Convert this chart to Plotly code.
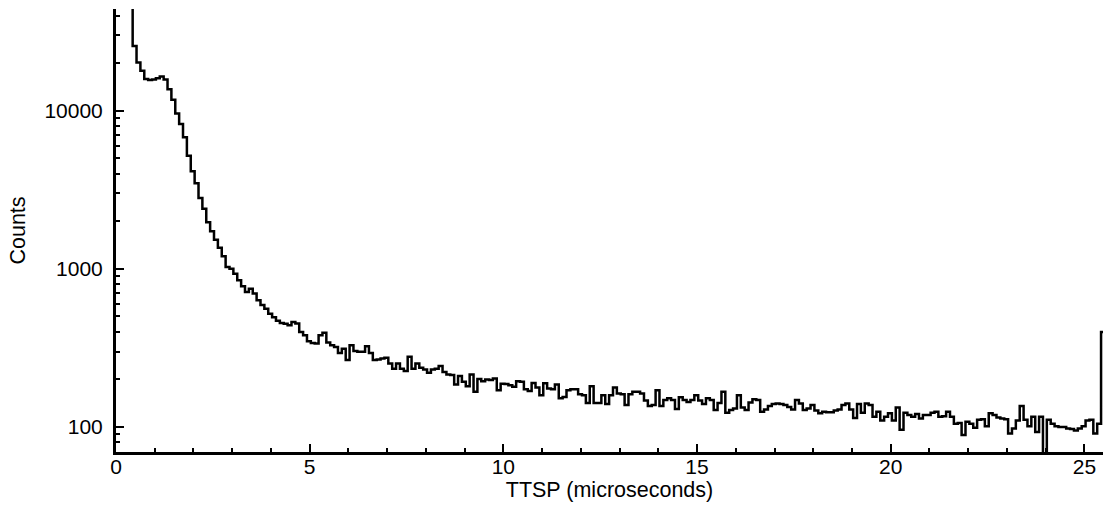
import math
import plotly.graph_objects as go

# Histogram of TTSP (time to successive pulse), bin width 0.1 microseconds
first_bin_left = 0.33
bin_width = 0.1
counts = [
    60000, 25700, 20200, 17900, 15850, 15630, 15750, 16080, 16460, 15750,
    13700, 11740, 9620, 8240, 6790, 5200, 4140, 3480, 2810, 2400,
    1970, 1730, 1530, 1360, 1200, 1026, 1003, 933, 846, 776,
    714, 750, 698, 633, 590, 560, 520, 495, 470, 455,
    450, 440, 461, 451, 399, 380, 349, 340, 337, 380,
    394, 342, 329, 321, 294, 313, 265, 329, 303, 299,
    299, 324, 294, 265, 267, 271, 274, 252, 234, 252,
    234, 226, 278, 234, 252, 237, 231, 220, 231, 234,
    243, 223, 215, 213, 186, 210, 193, 181, 215, 167,
    201, 195, 200, 198, 203, 171, 188, 187, 184, 180,
    195, 193, 173, 169, 190, 178, 159, 189, 175, 173,
    186, 152, 155, 171, 173, 173, 161, 159, 142, 181,
    142, 142, 159, 140, 159, 178, 163, 161, 138, 161,
    167, 167, 163, 147, 136, 138, 171, 136, 148, 152,
    148, 130, 154, 148, 144, 148, 159, 147, 140, 152,
    148, 128, 142, 167, 123, 128, 131, 159, 133, 128,
    143, 150, 148, 125, 129, 136, 140, 141, 140, 138,
    134, 129, 148, 141, 128, 131, 138, 127, 122, 125,
    124, 124, 127, 129, 138, 141, 129, 114, 140, 123,
    141, 138, 116, 125, 110, 116, 122, 110, 133, 96,
    123, 119, 116, 121, 113, 119, 119, 123, 125, 116,
    117, 125, 116, 105, 106, 89, 108, 105, 99, 111,
    112, 101, 122, 119, 115, 113, 112, 91, 98, 110,
    136, 111, 101, 116, 93, 116, 65, 111, 105, 101,
    100, 100, 98, 97, 95, 98, 101, 110, 111, 91,
    105, 399,
]

x_range = [0, 25.48]
y_range_counts = [69.5, 44000]
x_major = [0, 5, 10, 15, 20, 25]
x_minor = [v for v in range(0, 26) if v % 5 != 0]
y_major = [100, 1000, 10000]
y_major_text = ["100", "1000", "10000"]
y_minor = [70, 80, 90, 200, 300, 400, 500, 600, 700, 800, 900,
           2000, 3000, 4000, 5000, 6000, 7000, 8000, 9000, 20000, 30000, 40000]

edges = [first_bin_left + bin_width * i for i in range(len(counts) + 1)]
xs = edges
ys = counts + [counts[-1]]

FONT = "Liberation Sans, Arial, Helvetica, sans-serif"

fig = go.Figure()
fig.add_trace(go.Scatter(
    x=xs, y=ys, mode="lines", line=dict(shape="hv", color="black", width=2.5),
    hoverinfo="skip", showlegend=False,
))

fig.update_layout(
    width=1103, height=508,
    margin=dict(l=116, r=0, t=9, b=56),
    paper_bgcolor="white", plot_bgcolor="white",
    font=dict(family=FONT, size=21, color="black"),
)
fig.update_xaxes(
    range=x_range, showgrid=False, zeroline=False,
    showline=True, linecolor="black", linewidth=3,
    tickmode="array", tickvals=x_major, ticktext=[str(v) for v in x_major],
    ticks="inside", ticklen=8, tickwidth=2, tickcolor="black",
    minor=dict(tickvals=x_minor, ticks="inside", ticklen=4, tickwidth=2, tickcolor="black", showgrid=False),
    tickfont=dict(size=21), ticklabelstandoff=-6,
    title=dict(text="TTSP (microseconds)", font=dict(size=21.5), standoff=3),
    automargin=False,
)
fig.update_yaxes(
    type="log", range=[math.log10(y_range_counts[0]), math.log10(y_range_counts[1])],
    showgrid=False, zeroline=False,
    showline=True, linecolor="black", linewidth=3,
    tickmode="array", tickvals=y_major, ticktext=y_major_text,
    ticks="inside", ticklen=8, tickwidth=2, tickcolor="black",
    minor=dict(tickvals=y_minor, ticks="inside", ticklen=4, tickwidth=2, tickcolor="black", showgrid=False),
    tickfont=dict(size=21), ticklabelstandoff=6,
    title=dict(text="Counts", font=dict(size=21.5), standoff=13),
    automargin=False,
)

fig.write_html(
    "out.html",
    config={"displayModeBar": False},
    post_script="document.body.style.margin='0';document.body.style.overflow='hidden';",
)
